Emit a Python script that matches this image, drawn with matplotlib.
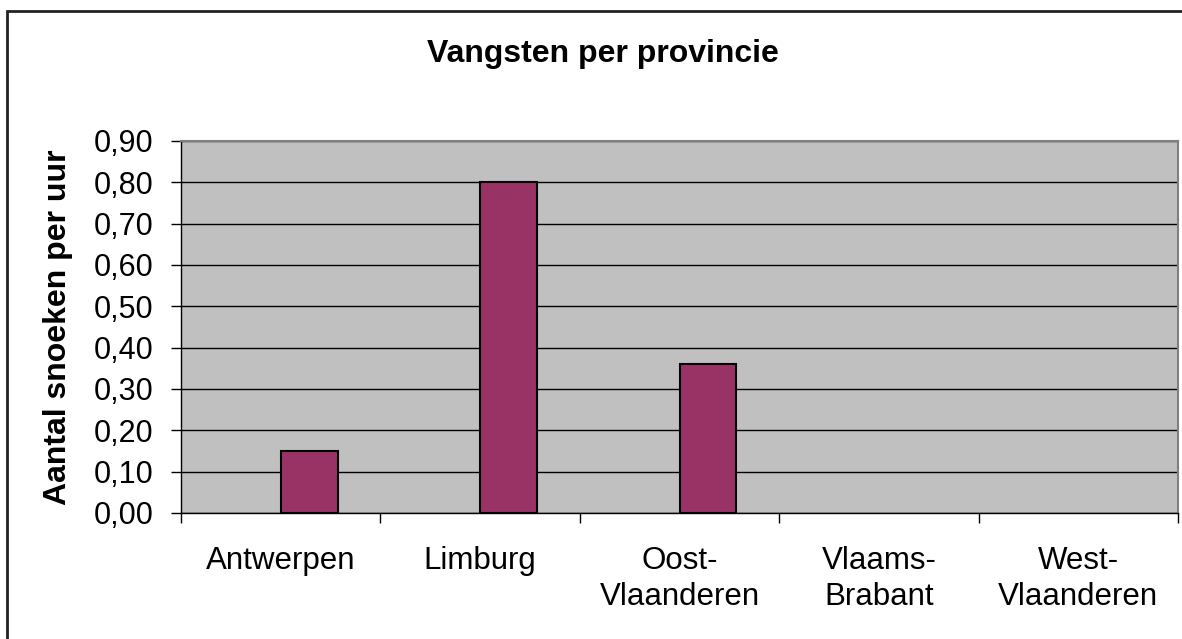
import matplotlib.pyplot as plt
from matplotlib.patches import Rectangle
from matplotlib.ticker import FuncFormatter

provincies = ["Antwerpen", "Limburg", "Oost-\nVlaanderen", "Vlaams-\nBrabant", "West-\nVlaanderen"]
vangsten = [0.15, 0.80, 0.36, 0.0, 0.0]
y_ticks = [0.0, 0.1, 0.2, 0.3, 0.4, 0.5, 0.6, 0.7, 0.8, 0.9]

plt.rcParams['font.family'] = ['Liberation Sans', 'DejaVu Sans']

fig = plt.figure(figsize=(11.82, 6.39), dpi=100)
ax = fig.add_axes([181 / 1182, 1 - 513 / 639, (1178 - 181) / 1182, (513 - 141) / 639])

# outer chart border (cut off at right and bottom like the original)
fig.patches.append(Rectangle((7 / 1182, -0.1), 1.2, 1 - 11 / 639 + 0.1,
                             transform=fig.transFigure, fill=False,
                             edgecolor='#222222', linewidth=2))

ax.set_facecolor('#C0C0C0')
x = list(range(len(provincies)))
edge_w = [1.5 if v > 0 else 0 for v in vangsten]
ax.bar(x, vangsten, width=0.285, align='edge', color='#993366',
       edgecolor='black', linewidth=edge_w, zorder=3)

ax.set_xlim(-0.5, len(provincies) - 0.5)
ax.set_ylim(0, 0.9)
ax.set_yticks(y_ticks)
ax.yaxis.set_major_formatter(FuncFormatter(lambda v, p: f"{v:.2f}".replace('.', ',')))
ax.grid(axis='y', color='black', linewidth=1, zorder=1)
ax.set_axisbelow(True)

# category boundary ticks
ax.set_xticks([i - 0.5 for i in range(len(provincies) + 1)])
ax.set_xticklabels([])
ax.set_xticks(x, minor=True)
ax.set_xticklabels(provincies, minor=True, fontsize=22.5, linespacing=1.25)
ax.tick_params(axis='x', which='major', direction='out', length=7, width=1)
ax.tick_params(axis='x', which='minor', length=0, pad=24)
ax.tick_params(axis='y', direction='out', length=7, width=1, labelsize=22, pad=13)

for s in ['top', 'right']:
    ax.spines[s].set_color('#808080')
    ax.spines[s].set_linewidth(1.5)
for s in ['left', 'bottom']:
    ax.spines[s].set_color('black')
    ax.spines[s].set_linewidth(1)

fig.text(603 / 1182, 1 - 54 / 639, "Vangsten per provincie", fontsize=23,
         fontweight='bold', ha='center', va='center')
fig.text(58 / 1182, 1 - 327 / 639, "Aantal snoeken per uur", fontsize=23,
         fontweight='bold', rotation=90, ha='center', va='center')

fig.savefig("out.png", dpi=100)
